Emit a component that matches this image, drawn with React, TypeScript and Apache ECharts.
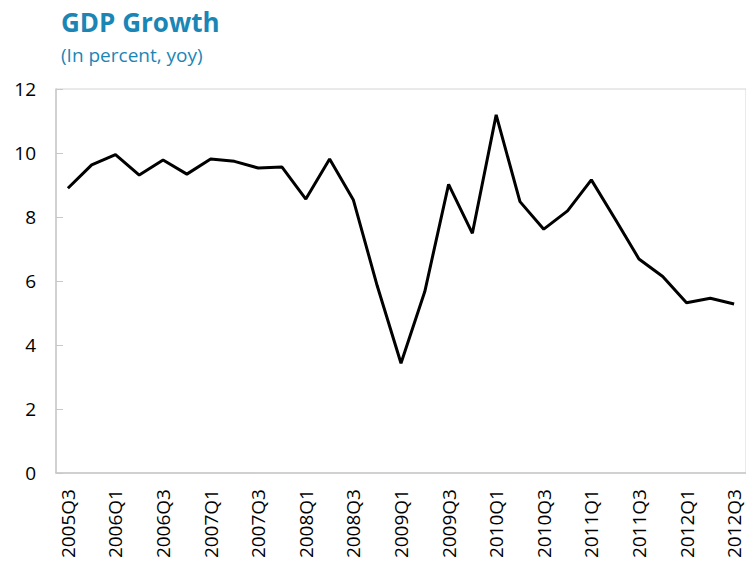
import React, { useEffect, useRef } from "react";
import * as echarts from "echarts";

const categories = [
  "2005Q3", "2005Q4", "2006Q1", "2006Q2", "2006Q3", "2006Q4", "2007Q1", "2007Q2", "2007Q3", "2007Q4",
  "2008Q1", "2008Q2", "2008Q3", "2008Q4", "2009Q1", "2009Q2", "2009Q3", "2009Q4", "2010Q1", "2010Q2",
  "2010Q3", "2010Q4", "2011Q1", "2011Q2", "2011Q3", "2011Q4", "2012Q1", "2012Q2", "2012Q3",
];
const gdpGrowth = [
  8.9, 9.63, 9.95, 9.31, 9.78, 9.34, 9.81, 9.74, 9.53, 9.56,
  8.56, 9.81, 8.53, 5.85, 3.43, 5.67, 9.02, 7.49, 11.19, 8.48,
  7.62, 8.19, 9.16, 7.94, 6.69, 6.14, 5.32, 5.46, 5.28,
];
const titleText = "GDP Growth";
const subtitleText = "(In percent, yoy)";

export default function App() {
  const ref = useRef<HTMLDivElement>(null);
  useEffect(() => {
    if (!ref.current) return;
    const chart = echarts.init(ref.current, null, { renderer: "svg" });
    const font = "'Open Sans', 'Noto Sans', sans-serif";
    chart.setOption({
      animation: false,
      backgroundColor: "#ffffff",
      title: {
        text: titleText,
        subtext: subtitleText,
        left: 56,
        top: 4,
        itemGap: 10,
        textStyle: { color: "#1a86b6", fontSize: 26, fontWeight: "bold", fontFamily: font },
        subtextStyle: { color: "#1a86b6", fontSize: 19, fontFamily: font },
      },
      grid: {
        left: 56,
        top: 89,
        bottom: 90,
        right: -3,
        show: true,
        borderColor: "#d4d4d4",
        borderWidth: 1,
        containLabel: false,
      },
      xAxis: {
        type: "category",
        data: categories,
        boundaryGap: true,
        axisLine: { lineStyle: { color: "#c8c8c8", width: 1.5 } },
        axisTick: { inside: true, length: 7, interval: 0, lineStyle: { color: "#c8c8c8" } },
        axisLabel: {
          rotate: 90,
          interval: 1,
          margin: 16,
          color: "#000",
          fontSize: 19,
          fontFamily: font,
        },
        splitLine: { show: false },
      },
      yAxis: {
        type: "value",
        min: 0,
        max: 12,
        interval: 2,
        axisLine: { show: true, lineStyle: { color: "#c8c8c8", width: 1.5 } },
        axisTick: { show: true, inside: true, length: 7, lineStyle: { color: "#c8c8c8" } },
        axisLabel: { color: "#000", fontSize: 19, fontFamily: font, margin: 20 },
        splitLine: { show: false },
      },
      series: [
        {
          type: "line",
          data: gdpGrowth,
          symbol: "none",
          lineStyle: { color: "#000", width: 3 },
        },
      ],
    });
    return () => chart.dispose();
  }, []);
  return <div ref={ref} style={{ width: 746, height: 563, position: "absolute", left: 0, top: 0 }} />;
}
